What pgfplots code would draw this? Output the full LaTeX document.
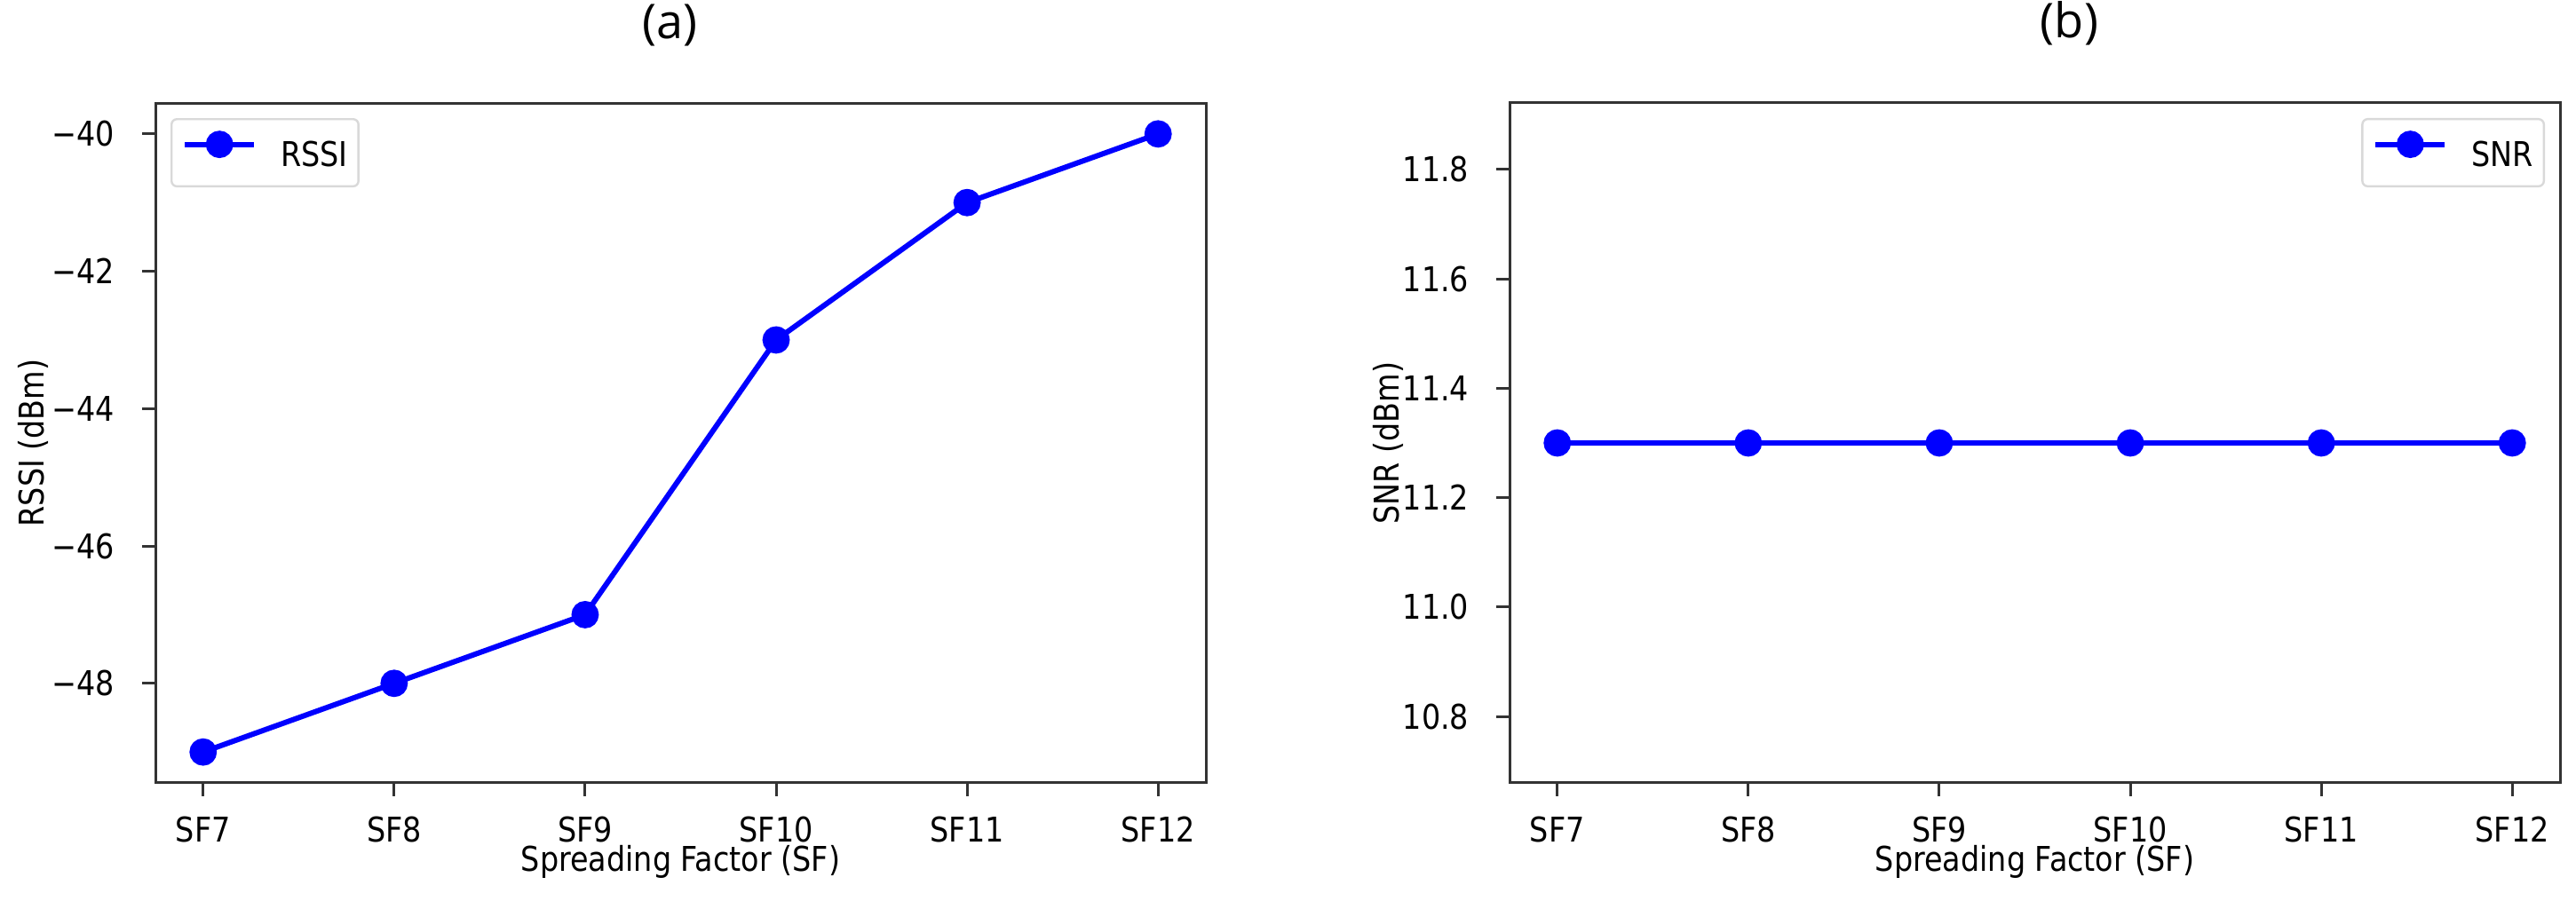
\documentclass[border=0pt]{standalone}
\usepackage{fontspec}
\setmainfont{DejaVu Sans}[FakeStretch=0.87]
\newfontfamily\titlefont{Open Sans}
\usepackage{pgfplots}
\pgfplotsset{compat=1.18}

\pgfplotsset{
  sfpanel/.style={
    scale only axis, width=295.75pt, height=191.5pt,
    xmin=-0.25, xmax=5.25,
    xtick={0,...,5}, xticklabels={SF7,SF8,SF9,SF10,SF11,SF12},
    tick align=outside, tick pos=left, major tick length=3.75pt,
    every tick/.style={black!80, line width=0.75pt},
    axis line style={black!80, line width=0.75pt},
    tick label style={font=\fontsize{9.6}{11}\selectfont, inner sep=0pt},
    xticklabel style={anchor=north, yshift=-5.5pt},
    yticklabel style={anchor=east, xshift=-7.5pt},
    xlabel={Spreading Factor (SF)},
    xlabel style={at={(axis description cs:0.5,0)}, anchor=base, yshift=-25pt,
      inner sep=0pt, font=\fontsize{9.6}{11}\selectfont},
    ylabel style={at={([xshift=-31.25pt]axis description cs:0,0.5)}, anchor=base,
      inner sep=0pt, font=\fontsize{9.6}{11}\selectfont},
    title style={at={(axis description cs:0.5,1)}, anchor=base, yshift=12.25pt,
      inner sep=0pt, font=\titlefont\fontsize{13.5}{15}\selectfont},
    legend style={font=\fontsize{9.6}{11}\selectfont, draw=black!15, line width=0.6pt,
      rounded corners=1.5pt, inner xsep=3pt, inner ysep=4pt, nodes={inner sep=0pt},
      /tikz/every odd column/.append style={column sep=6.75pt}},
    legend image code/.code={\draw[#1, mark repeat=2, mark phase=2]
      plot coordinates {(0pt,3.5pt) (9.75pt,3.5pt) (19.5pt,3.5pt)};},
  },
  sfline/.style={blue, line width=1.5pt, mark=*, mark size=3.1pt,
    mark options={solid, draw=none, fill=blue}},
}

\begin{document}
\begin{tikzpicture}[x=1pt,y=1pt]
% page frame, 1pt = 4px of the reference
\path (0,0) rectangle (725.25,253.75);

% (a) RSSI
\begin{axis}[sfpanel, at={(43.75pt,33.25pt)}, anchor=south west,
    ymin=-49.45, ymax=-39.55,
    ytick={-48,-46,-44,-42,-40},
    yticklabels={−48,−46,−44,−42,−40},
    ylabel={RSSI (dBm)},
    title={(a)},
    title style={xshift=-3.1pt},
    legend style={at={(0,1)}, anchor=north west, xshift=4.25pt, yshift=-4.25pt},
]
\addplot[sfline] coordinates {
  (0,-49) (1,-48) (2,-47) (3,-43) (4,-41) (5,-40)
};
\addlegendentry{RSSI}
\end{axis}

% (b) SNR
\begin{axis}[sfpanel, at={(425pt,33.25pt)}, anchor=south west,
    ymin=10.6785, ymax=11.9215,
    ytick={10.8,11.0,11.2,11.4,11.6,11.8},
    yticklabels={10.8,11.0,11.2,11.4,11.6,11.8},
    ylabel={SNR (dBm)},
    title={(b)},
    title style={xshift=9.75pt},
    legend style={at={(1,1)}, anchor=north east, xshift=-4.25pt, yshift=-4.25pt},
]
\addplot[sfline] coordinates {
  (0,11.3) (1,11.3) (2,11.3) (3,11.3) (4,11.3) (5,11.3)
};
\addlegendentry{SNR}
\end{axis}
\end{tikzpicture}
\end{document}
